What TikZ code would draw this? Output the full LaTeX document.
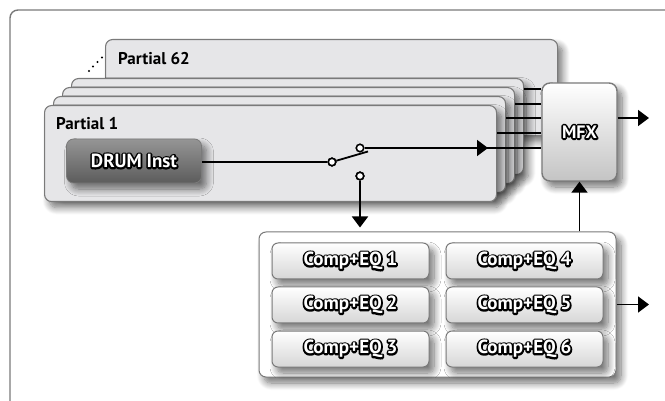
\documentclass[tikz,border=0pt]{standalone}
\usepackage{fontspec}
\setmainfont{PT Sans}
\usetikzlibrary{arrows.meta,shadows.blur}
\definecolor{cardfill}{HTML}{E6E6E8}
\definecolor{cardline}{HTML}{7A7A7A}
\definecolor{drumtop}{HTML}{959595}
\definecolor{drumbot}{HTML}{5C5C5C}
\definecolor{mfxbot}{HTML}{C4C4C4}
\definecolor{compbot}{HTML}{D6D6D6}
\newcommand\olt[1]{\leavevmode\rlap{\color{black}\special{pdf:literal direct 2 Tr 3.4 w 1 j}#1\special{pdf:literal direct 0 Tr}}#1}
\begin{document}
\begin{tikzpicture}[x=1pt,y=-1pt,
  shd/.style={blur shadow={shadow xshift=5pt,shadow yshift=-6pt,shadow blur steps=10,shadow blur radius=7pt,shadow opacity=55}},
  card/.style={shd,draw=cardline,line width=1.1pt,fill=cardfill,rounded corners=7pt,anchor=north west,minimum width=452,minimum height=96,inner sep=0},
  wire/.style={line width=1.8pt,black},
  arr/.style={wire,-{Triangle[length=11pt,width=16pt]}},
  contact/.style={circle,draw=black,fill=white,line width=1.6pt,minimum size=7.5,inner sep=0},
  title/.style={font=\bfseries\fontsize{17}{17}\selectfont,anchor=base west,inner sep=0},
  otext/.style={font=\bfseries\fontsize{19}{19}\selectfont,text=white},
  compbox/.style={shd,draw=cardline,line width=1pt,rounded corners=6pt,top color=white,bottom color=compbot,minimum width=157,minimum height=36,inner sep=0,otext}
]
\useasboundingbox (0,0) rectangle (665,401);
\begin{scope}
\clip (0,0) rectangle (665,401);
\draw[cardline,line width=1.4pt,rounded corners=8pt] (10,420) -- (10,10) -- (680,10);
\end{scope}
% stacked partials
\node[card] (p62) at (105,39) {};
\node[title] (t62) at (118,65) {Partial 62};
\foreach \i/\x/\y in {1/89/71,2/93/66.5,3/97.5/62,4/102/57.5}
  \fill (\x,\y) circle (1.1pt);
\node[card] (p4) at (71,78) {};
\node[card] (p3) at (62,87) {};
\node[card] (p2) at (53,96) {};
\node[card] (p1) at (44,105) {};
\node[title] (t1) at (56,130) {Partial 1};
% DRUM Inst
\node[shd,draw=cardline,line width=0.8pt,rounded corners=7pt,top color=drumtop,bottom color=drumbot,minimum width=135,minimum height=44,inner sep=0,otext] (drum) at (134,161) {\olt{DRUM Inst}};
% MFX
\node[shd,draw=cardline,line width=1.4pt,rounded corners=8pt,top color=white,bottom color=mfxbot,minimum width=75,minimum height=98,inner sep=0,otext,font=\bfseries\fontsize{18}{18}\selectfont] (mfx) at (579.5,132) {\olt{MFX}};
% switch
\node[contact] (sw) at (332,162) {};
\node[contact] (sa) at (360,148) {};
\node[contact] (sb) at (360,176) {};
\coordinate (lever) at (368,151.5);
\draw[wire] (drum.east |- sw) -- (sw.west);
\draw[wire] (sw) -- (lever);
\node[contact] at (sw) {};
% lines from partials to MFX
\coordinate (l4) at (p4.east |- 0,89);
\coordinate (l3) at (p3.east |- 0,103.7);
\coordinate (l2) at (p2.east |- 0,118.4);
\coordinate (l1) at (p1.east |- 0,133.1);
\draw[wire] (l4) -- (l4 -| mfx.west);
\draw[wire] (l3) -- (l3 -| mfx.west);
\draw[wire] (l2) -- (l2 -| mfx.west);
\draw[wire] (l1) -- (l1 -| mfx.west);
\coordinate (tipA) at (488,148);
\draw[wire] (sa.east) -- (sa -| mfx.west);
\draw[arr] (sa.east) -- (tipA);
% comp box
\node[shd,draw=cardline,line width=1pt,rounded corners=7pt,fill=white,minimum width=357,minimum height=145,inner sep=0] (comp) at (437.5,304.5) {};
\node[compbox] (c1) at (350.5,261) {\olt{Comp+EQ 1}};
\node[compbox] (c2) at (350.5,305) {\olt{Comp+EQ 2}};
\node[compbox] (c3) at (350.5,349) {\olt{Comp+EQ 3}};
\node[compbox] (c4) at (524.5,261) {\olt{Comp+EQ 4}};
\node[compbox] (c5) at (524.5,305) {\olt{Comp+EQ 5}};
\node[compbox] (c6) at (524.5,349) {\olt{Comp+EQ 6}};
% arrows
\coordinate (downtip) at (360,227.5);
\draw[arr] (sb.south) -- (downtip);
\node[contact] at (sb) {};
\draw[arr] (mfx.south |- comp.north) -- (mfx.south);
\coordinate (mfxout) at (649,118);
\draw[arr] (mfx.east |- mfxout) -- (mfxout);
\coordinate (compout) at (649,304.5);
\draw[arr] (comp.east) -- (compout);
\end{tikzpicture}
\end{document}
